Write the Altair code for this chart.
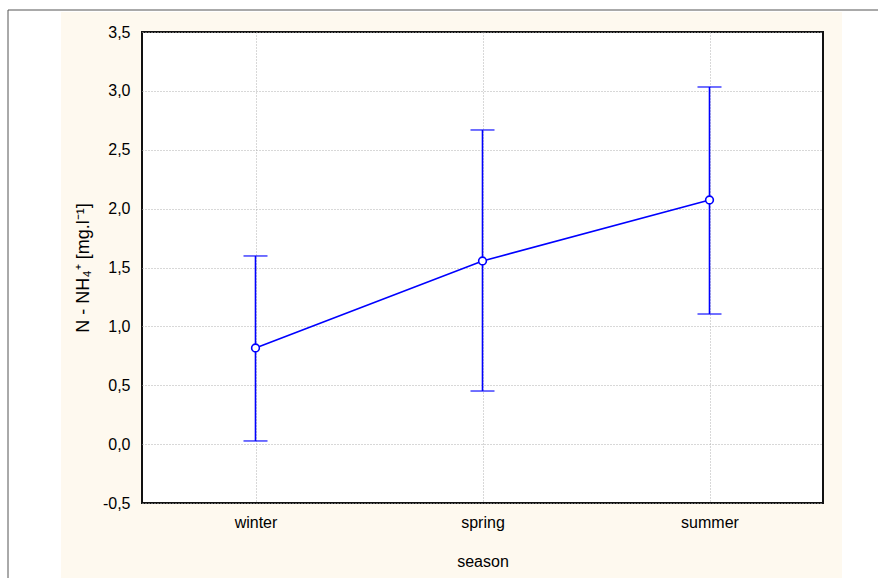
import altair as alt
import pandas as pd

# ---- data ----
seasons = ["winter", "spring", "summer"]
means = [0.816, 1.555, 2.073]
lower = [0.027, 0.451, 1.105]
upper = [1.598, 2.668, 3.033]
y_ticks = [-0.5, 0.0, 0.5, 1.0, 1.5, 2.0, 2.5, 3.0, 3.5]

df = pd.DataFrame({"season": seasons, "mean": means, "lo": lower, "hi": upper})
one = pd.DataFrame({"k": [0]})

W, H = 681, 471
FONT = "Liberation Sans"
BLUE = "#0000ff"
BEIGE = "#fef9ef"

label_expr = "replace(replace(format(datum.value, '.1f'), '.', ','), '\u2212', '-')"

x_enc = alt.X(
    "season:N",
    sort=seasons,
    scale=alt.Scale(type="point", padding=0.5),
    axis=alt.Axis(
        title="season",
        labelAngle=0,
        labelFontSize=16,
        titleFontSize=16,
        labelPadding=11,
        titlePadding=23,
        ticks=False,
        domain=False,
        grid=True,
        gridDash=[1, 2],
        gridColor="#b0b0b0",
        labelColor="#000",
        titleColor="#000",
        titleFontWeight="normal",
    ),
)
y_scale = alt.Scale(domain=[-0.5, 3.5], nice=False, zero=False)
y_enc = alt.Y(
    "mean:Q",
    scale=y_scale,
    axis=alt.Axis(
        title="N - NH\u2084\u207a [mg.l\u207b\u00b9]",
        values=y_ticks,
        labelExpr=label_expr,
        labelFontSize=16,
        titleFontSize=18,
        labelPadding=12,
        titlePadding=10,
        ticks=False,
        domain=False,
        grid=True,
        gridDash=[1, 2],
        gridColor="#b0b0b0",
        labelColor="#000",
        titleColor="#000",
        titleFontWeight="normal",
    ),
)

base = alt.Chart(df)

def white_rect(x1, x2, y1, y2):
    return alt.Chart(one).mark_rect(color="white", strokeWidth=0).encode(
        x=alt.value(x1), x2=alt.value(x2), y=alt.value(y1), y2=alt.value(y2)
    )

outer = [
    white_rect(-142, -81, -32, 546),
    white_rect(700, 736, -32, 546),
    white_rect(-142, 736, -32, -20),
]
top_line = alt.Chart(one).mark_rule(color="#555", strokeWidth=1).encode(
    x=alt.value(-134), x2=alt.value(736), y=alt.value(-22)
)
left_line = alt.Chart(one).mark_rule(color="#555", strokeWidth=1).encode(
    x=alt.value(-134), y=alt.value(-22), y2=alt.value(546)
)

err = base.mark_rule(color=BLUE, strokeWidth=1.6).encode(
    x=x_enc, y=alt.Y("lo:Q", scale=y_scale), y2="hi:Q"
)
cap_lo = base.mark_tick(color=BLUE, thickness=1.6, size=24).encode(
    x=x_enc, y=alt.Y("lo:Q", scale=y_scale)
)
cap_hi = base.mark_tick(color=BLUE, thickness=1.6, size=24).encode(
    x=x_enc, y=alt.Y("hi:Q", scale=y_scale)
)
line = base.mark_line(color=BLUE, strokeWidth=1.6).encode(x=x_enc, y=y_enc)
pts = base.mark_point(
    shape="circle", filled=True, fill="white", stroke=BLUE, strokeWidth=1.6, size=60, opacity=1
).encode(x=x_enc, y=y_enc)

chart = alt.layer(
    *outer, top_line, left_line, err, cap_lo, cap_hi, line, pts
).properties(
    width=W,
    height=H,
    autosize=alt.AutoSizeParams(type="none"),
    padding={"left": 142, "top": 32, "right": 55, "bottom": 75},
    background=BEIGE,
).configure_view(
    stroke="#111", strokeWidth=2, fill="white"
).configure_axis(
    labelFont=FONT, titleFont=FONT
)

chart.save("out.html", embed_options={"renderer": "svg", "actions": False})
